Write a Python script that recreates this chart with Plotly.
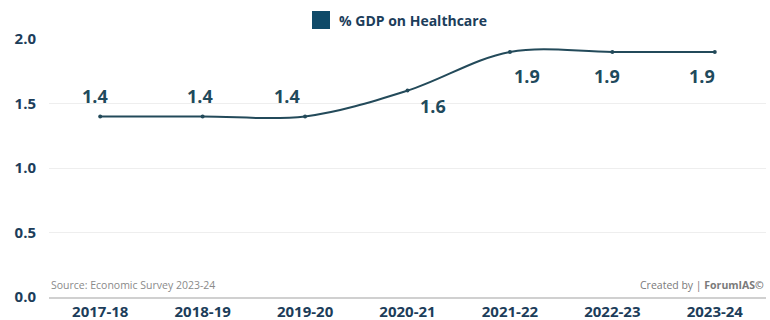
import plotly.graph_objects as go

years = ["2017-18", "2018-19", "2019-20", "2020-21", "2021-22", "2022-23", "2023-24"]
gdp_share = [1.4, 1.4, 1.4, 1.6, 1.9, 1.9, 1.9]
series_name = "% GDP on Healthcare"
y_ticks = [0.0, 0.5, 1.0, 1.5, 2.0]

# label placement relative to each point (pixels)
label_dx = [-5, -3, -18, 25, 17, -5, -13]
label_dy = [20, 20, 20, -15, -24, -24, -24]

navy = "#0f4a68"
text_col = "#1f4a5c"
tick_col = "#1c3d5a"
font = "Open Sans"

fig = go.Figure()
fig.add_trace(go.Scatter(
    x=years, y=gdp_share, mode="lines+markers", name=series_name,
    line=dict(color="#234a5a", width=2, shape="spline", smoothing=1.0),
    marker=dict(size=4, color="#234a5a"),
    showlegend=False, hoverinfo="x+y",
))

for x, v, dx, dy in zip(years, gdp_share, label_dx, label_dy):
    fig.add_annotation(x=x, y=v, text=f"{v}", showarrow=False,
                       xshift=dx, yshift=dy,
                       font=dict(family=font, size=18, color=text_col, weight="bold"))

# legend: filled square and series name above the plot
fig.add_shape(type="rect", xref="paper", yref="paper",
              x0=(312 - 49) / 717, x1=(330 - 49) / 717,
              y0=1 + (39 - 29) / 258, y1=1 + (39 - 11) / 258,
              fillcolor=navy, line=dict(width=0))
fig.add_annotation(xref="paper", yref="paper", x=(337 - 49) / 717, y=1 + (39 - 20) / 258,
                   xanchor="left", yanchor="middle", text=series_name, showarrow=False,
                   font=dict(family=font, size=14, color=tick_col, weight="bold"))

fig.add_annotation(xref="paper", yref="paper", x=0, y=0, xanchor="left", yanchor="bottom",
                   yshift=3, text="Source: Economic Survey 2023-24", showarrow=False,
                   font=dict(family=font, size=10.5, color="#8a8a8a"))
fig.add_annotation(xref="paper", yref="paper", x=1, y=0, xanchor="right", yanchor="bottom",
                   yshift=3, text="Created by | <b>ForumIAS©</b>", showarrow=False,
                   font=dict(family=font, size=10.5, color="#7a7a7a"))

fig.update_layout(
    width=770, height=320,
    margin=dict(l=49, r=4, t=39, b=23, autoexpand=False),
    paper_bgcolor="white", plot_bgcolor="white",
    font=dict(family=font, color=text_col),
    showlegend=False,
    xaxis=dict(type="category", range=[-0.5, 6.5], showgrid=False,
               showline=True, linecolor="#d0d0d0", linewidth=1.5, ticks="",
               ticklabelstandoff=0,
               tickfont=dict(family=font, size=15, color=tick_col, weight="bold")),
    yaxis=dict(range=[0, 2.0], tickvals=y_ticks, ticktext=[f"{t:.1f}" for t in y_ticks],
               showgrid=True, gridcolor="#eeeeee", zeroline=False, ticks="",
               ticklabelstandoff=12,
               tickfont=dict(family=font, size=15, color=tick_col, weight="bold")),
)

fig.write_html("out.html")
